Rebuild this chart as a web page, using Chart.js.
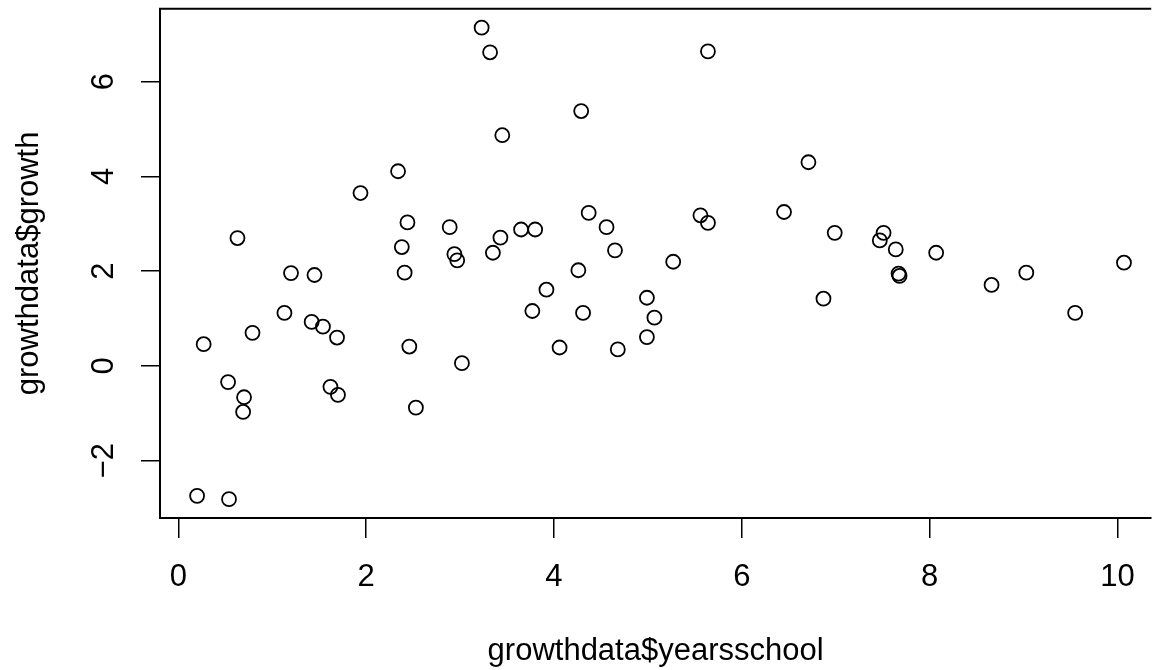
<!DOCTYPE html>
<html lang="en">
  <head>
    <meta charset="UTF-8" />
    <title>growthdata</title>
    <script src="https://cdn.jsdelivr.net/npm/chart.js@4.4.0/dist/chart.umd.min.js"></script>
    <style>
      body { margin: 0; background: #fff; }
    </style>
  </head>
  <body>
    <canvas id="myChart" width="1160" height="670"></canvas>

    <script>
      // values, one entry per country
      var yearsschool = [3.23, 3.32, 5.64, 4.29, 3.45, 6.71, 2.34, 1.94, 6.45, 4.37,
        5.56, 2.44, 5.64, 2.89, 4.56, 3.65, 3.80, 7.51, 6.99, 3.43,
        0.63, 7.47, 2.38, 7.64, 4.65, 8.07, 3.35, 2.94, 2.97, 5.27,
        10.07, 4.26, 9.03, 2.41, 1.20, 7.67, 1.45, 7.68, 8.66, 3.92,
        4.99, 6.87, 3.77, 1.13, 4.31, 9.55, 5.07, 1.42, 1.54, 0.79,
        4.99, 1.69, 0.27, 2.46, 4.06, 4.68, 3.02, 0.53, 1.62, 1.70,
        0.70, 2.53, 0.69, 0.20, 0.54];
      var growth = [7.14, 6.62, 6.64, 5.38, 4.87, 4.30, 4.11, 3.65, 3.25, 3.23,
        3.18, 3.03, 3.02, 2.93, 2.93, 2.88, 2.88, 2.81, 2.81, 2.71,
        2.70, 2.65, 2.51, 2.46, 2.44, 2.39, 2.39, 2.36, 2.23, 2.20,
        2.18, 2.02, 1.97, 1.97, 1.96, 1.95, 1.92, 1.90, 1.71, 1.61,
        1.44, 1.42, 1.16, 1.12, 1.12, 1.12, 1.02, 0.93, 0.83, 0.70,
        0.61, 0.60, 0.46, 0.41, 0.39, 0.35, 0.06, -0.34, -0.44, -0.61,
        -0.66, -0.88, -0.97, -2.74, -2.81];

      var xTicks = [0, 2, 4, 6, 8, 10];
      var yTicks = [-2, 0, 2, 4, 6];

      var FONT = "'Liberation Sans', Arial, Helvetica, sans-serif";

      var points = [];
      for (let i = 0; i < yearsschool.length; i++) {
        points.push({ x: yearsschool[i], y: growth[i] });
      }

      // R pads the data range by 4%; the right side of the box is cut off in the picture
      var ySpan = Math.max(...growth) - Math.min(...growth);
      var yMin = Math.min(...growth) - 0.04 * ySpan;
      var yMax = Math.max(...growth) + 0.04 * ySpan;

      function minus(v) {
        return String(v).replace("-", "\u2212");
      }

      // top line of the box + y tick labels turned like R's las=0
      const rFrame = {
        id: "rFrame",
        afterDraw: function (chart) {
          var ctx = chart.ctx;
          var a = chart.chartArea;
          var ys = chart.scales.y;
          ctx.save();
          ctx.strokeStyle = "#000";
          ctx.lineWidth = 2;
          ctx.beginPath();
          ctx.moveTo(a.left - 1, a.top);
          ctx.lineTo(a.right, a.top);
          ctx.stroke();

          ctx.fillStyle = "#000";
          ctx.font = "31px " + FONT;
          ctx.textAlign = "center";
          ctx.textBaseline = "middle";
          ys.ticks.forEach((t) => {
            ctx.save();
            ctx.translate(104, ys.getPixelForValue(t.value));
            ctx.rotate(-Math.PI / 2);
            ctx.fillText(minus(t.value), 0, 0);
            ctx.restore();
          });
          ctx.restore();
        },
      };

      const config = {
        type: "scatter",
        data: {
          datasets: [
            {
              data: points,
              pointStyle: "circle",
              pointRadius: 7,
              pointHoverRadius: 7,
              pointBorderWidth: 1.8,
              pointBackgroundColor: "rgba(0,0,0,0)",
              pointBorderColor: "#000",
              borderColor: "#000",
            },
          ],
        },
        options: {
          responsive: false,
          animation: false,
          devicePixelRatio: 1,
          layout: { padding: { left: 0, right: 0, top: 8, bottom: 0 } },
          plugins: {
            legend: { display: false },
            tooltip: { enabled: false },
          },
          scales: {
            x: {
              type: "linear",
              min: -0.195,
              max: 10.36,
              afterBuildTicks: (s) => {
                s.ticks = xTicks.map((v) => ({ value: v }));
              },
              afterFit: (s) => {
                s.height = 152;
                // keep the plot running to the right edge like the cut-off original
                s.paddingLeft = 0;
                s.paddingRight = 0;
              },
              grid: {
                drawOnChartArea: false,
                drawTicks: true,
                tickLength: 20,
                color: "#000",
                lineWidth: 1.5,
              },
              border: { display: true, color: "#000", width: 2 },
              ticks: {
                color: "#000",
                font: { family: FONT, size: 31 },
                padding: 21,
                maxRotation: 0,
                autoSkip: false,
              },
              title: {
                display: true,
                text: "growthdata$yearsschool",
                color: "#000",
                font: { family: FONT, size: 31 },
                padding: 0,
              },
            },
            y: {
              type: "linear",
              min: yMin,
              max: yMax,
              afterBuildTicks: (s) => {
                s.ticks = yTicks.map((v) => ({ value: v }));
              },
              afterFit: (s) => {
                s.width = 160;
                s.paddingTop = 0;
                s.paddingBottom = 0;
              },
              grid: {
                drawOnChartArea: false,
                drawTicks: true,
                tickLength: 19,
                color: "#000",
                lineWidth: 1.5,
              },
              border: { display: true, color: "#000", width: 2 },
              ticks: { display: false },
              title: {
                display: true,
                text: "growthdata$growth",
                color: "#000",
                font: { family: FONT, size: 31 },
                padding: { top: 11, bottom: 0 },
              },
            },
          },
        },
        plugins: [rFrame],
      };

      var myChart = new Chart(document.getElementById("myChart"), config);
    </script>
  </body>
</html>
